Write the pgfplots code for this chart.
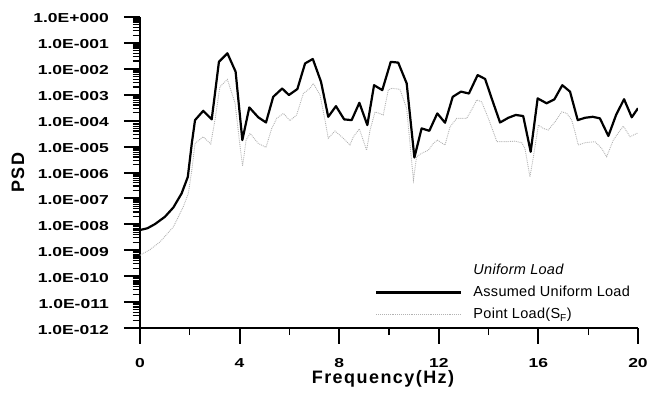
\documentclass[border=0pt]{standalone}
\usepackage{fontspec}
\setmainfont{Liberation Sans}
\newfontfamily\labfont[LetterSpace=8]{Liberation Sans}
\newfontfamily\legfont[LetterSpace=2]{Liberation Sans}
\usepackage{graphicx}
\usepackage{pgfplots}
\pgfplotsset{compat=1.18}
\newcommand\TK[1]{\scalebox{1.75}[1.3]{\normalsize\bfseries #1}}
\begin{document}
\begin{tikzpicture}
\path[use as bounding box] (-140pt,-66pt) rectangle (522pt,328pt);
\begin{axis}[
  at={(0,0)}, anchor=south west,
  width=498pt, height=311pt, scale only axis,
  xmin=0, xmax=20, ymin=1e-12, ymax=1,
  ymode=log,
  clip mode=individual,
  axis lines*=left,
  axis line style={line width=2.5pt},
  xtick={0,4,8,12,16,20},
  xticklabels={},
  minor xtick={2,6,10,14,18},
  ytick={1e-12,1e-11,1e-10,1e-9,1e-8,1e-7,1e-6,1e-5,1e-4,1e-3,1e-2,1e-1,1},
  yticklabels={},
  extra y ticks={
   2e-12,3e-12,4e-12,5e-12,6e-12,7e-12,8e-12,9e-12,
   2e-11,3e-11,4e-11,5e-11,6e-11,7e-11,8e-11,9e-11,
   2e-10,3e-10,4e-10,5e-10,6e-10,7e-10,8e-10,9e-10,
   2e-9,3e-9,4e-9,5e-9,6e-9,7e-9,8e-9,9e-9,
   2e-8,3e-8,4e-8,5e-8,6e-8,7e-8,8e-8,9e-8,
   2e-7,3e-7,4e-7,5e-7,6e-7,7e-7,8e-7,9e-7,
   2e-6,3e-6,4e-6,5e-6,6e-6,7e-6,8e-6,9e-6,
   2e-5,3e-5,4e-5,5e-5,6e-5,7e-5,8e-5,9e-5,
   2e-4,3e-4,4e-4,5e-4,6e-4,7e-4,8e-4,9e-4,
   2e-3,3e-3,4e-3,5e-3,6e-3,7e-3,8e-3,9e-3,
   2e-2,3e-2,4e-2,5e-2,6e-2,7e-2,8e-2,9e-2,
   2e-1,3e-1,4e-1,5e-1,6e-1,7e-1,8e-1,9e-1},
  extra y tick labels={},
  extra y tick style={major tick length=7pt, major tick style={black, line width=1.2pt}},
  tick align=outside,
  major tick length=16pt, minor tick length=7pt,
  major tick style={black, line width=2pt},
  minor tick style={black, line width=1.2pt},
  xlabel={Frequency(Hz)}, ylabel={PSD},
  label style={font=\labfont\fontsize{18}{20}\selectfont\bfseries},
  xlabel style={at={(axis description cs:0.488,-0.165)}, anchor=center},
  ylabel style={at={(axis description cs:-0.245,0.5)}, anchor=center},
  legend image code/.code={\draw[#1] (0pt,0pt) -- (85pt,0pt); \path (94pt,0pt);},
  legend cell align=left,
  legend style={draw=none, fill=none, at={(0.466,0.218)}, anchor=north west,
    font=\legfont\fontsize{14.5}{16}\selectfont, row sep=6pt},
]
\addlegendimage{draw opacity=0, line width=0pt}
\addplot[black, line width=2.2pt, line join=round] coordinates {
(0,6.03e-9) (0.3,7.08e-9) (0.6,1.02e-8) (1.0,1.95e-8) (1.34,4.47e-8) (1.67,1.55e-7)
(1.92,6.76e-7) (2.08,1.32e-5) (2.21,1.05e-4) (2.54,2.40e-4) (2.88,1.12e-4)
(3.17,1.86e-2) (3.51,3.98e-2) (3.84,7.76e-3) (4.11,1.78e-5) (4.39,3.24e-4)
(4.75,1.35e-4) (5.06,8.51e-5) (5.35,8.32e-4) (5.71,1.74e-3) (5.98,9.77e-4)
(6.32,1.66e-3) (6.63,1.62e-2) (6.94,2.40e-2) (7.27,3.16e-3) (7.56,1.41e-4)
(7.87,3.63e-4) (8.20,1.12e-4) (8.50,1.05e-4) (8.81,4.90e-4) (9.13,6.76e-5)
(9.40,2.34e-3) (9.73,1.51e-3) (10.07,1.86e-2) (10.37,1.74e-2) (10.71,2.75e-3)
(11.02,3.80e-6) (11.31,5.01e-5) (11.62,4.07e-5) (11.94,1.91e-4) (12.25,8.32e-5)
(12.56,8.32e-4) (12.89,1.32e-3) (13.21,1.12e-3) (13.56,5.75e-3) (13.86,4.07e-3)
(14.16,5.75e-4) (14.46,8.51e-5) (14.79,1.29e-4) (15.09,1.66e-4) (15.39,1.51e-4)
(15.69,6.31e-6) (15.97,7.24e-4) (16.33,4.68e-4) (16.64,6.61e-4) (16.96,2.34e-3)
(17.27,1.32e-3) (17.58,1.05e-4) (17.87,1.29e-4) (18.18,1.41e-4) (18.47,1.23e-4)
(18.81,2.57e-5) (19.12,1.66e-4) (19.44,6.76e-4) (19.75,1.35e-4) (20.0,3.02e-4)
};
\addplot[gray!60, line width=0.9pt, densely dotted] coordinates {
(0,6.46e-10) (0.4,1.05e-9) (0.8,2.09e-9) (1.34,7.94e-9) (1.74,4.79e-8) (1.94,1.55e-7)
(2.08,1.23e-6) (2.21,1.32e-5) (2.54,2.40e-5) (2.84,1.26e-5) (3.01,1.05e-4)
(3.21,2.04e-3) (3.51,3.89e-3) (3.82,4.68e-4) (4.02,9.77e-6) (4.12,1.78e-6)
(4.26,1.78e-5) (4.42,3.24e-5) (4.75,1.32e-5) (5.06,9.33e-6) (5.29,5.01e-5)
(5.49,1.23e-4) (5.76,1.91e-4) (6.02,1.00e-4) (6.29,1.66e-4) (6.56,1.12e-3)
(6.83,1.78e-3) (6.96,2.75e-3) (7.23,9.77e-4) (7.43,1.05e-4) (7.56,2.09e-5)
(7.83,3.98e-5) (8.10,2.40e-5) (8.43,1.15e-5) (8.57,2.40e-5) (8.81,4.79e-5)
(9.10,7.24e-6) (9.24,4.37e-5) (9.44,2.19e-4) (9.77,1.66e-4) (9.97,1.51e-3)
(10.11,1.78e-3) (10.44,1.62e-3) (10.71,2.95e-4) (10.98,5.13e-7) (11.11,4.07e-6)
(11.31,5.50e-6) (11.58,7.24e-6) (11.78,1.32e-5) (11.94,1.78e-5) (12.25,1.15e-5)
(12.45,5.75e-5) (12.72,1.23e-4) (13.12,1.23e-4) (13.39,3.47e-4) (13.52,6.31e-4)
(13.72,5.37e-4) (13.99,1.23e-4) (14.19,3.72e-5) (14.33,1.55e-5) (14.73,1.55e-5)
(15.06,1.62e-5) (15.33,1.41e-5) (15.46,8.51e-6) (15.66,6.76e-7) (15.80,4.07e-6)
(16.00,6.76e-5) (16.20,5.01e-5) (16.40,4.37e-5) (16.67,9.12e-5) (16.94,2.19e-4)
(17.14,1.91e-4) (17.34,1.05e-4) (17.47,3.72e-5) (17.60,1.15e-5) (17.87,1.41e-5)
(18.27,1.55e-5) (18.54,8.51e-6) (18.74,4.07e-6) (19.01,1.78e-5) (19.24,3.72e-5)
(19.41,6.17e-5) (19.68,2.40e-5) (20.0,3.39e-5)
};
\legend{\textit{Uniform Load},Assumed Uniform Load,Point Load(S\textsubscript{F})}
\coordinate (y12) at (axis cs:0,1e-12);
\coordinate (y11) at (axis cs:0,1e-11);
\coordinate (y10) at (axis cs:0,1e-10);
\coordinate (y9) at (axis cs:0,1e-9);
\coordinate (y8) at (axis cs:0,1e-8);
\coordinate (y7) at (axis cs:0,1e-7);
\coordinate (y6) at (axis cs:0,1e-6);
\coordinate (y5) at (axis cs:0,1e-5);
\coordinate (y4) at (axis cs:0,1e-4);
\coordinate (y3) at (axis cs:0,1e-3);
\coordinate (y2) at (axis cs:0,1e-2);
\coordinate (y1) at (axis cs:0,1e-1);
\coordinate (y0) at (axis cs:0,1);
\coordinate (x0) at (axis cs:0,1e-12);
\coordinate (x4) at (axis cs:4,1e-12);
\coordinate (x8) at (axis cs:8,1e-12);
\coordinate (x12) at (axis cs:12,1e-12);
\coordinate (x16) at (axis cs:16,1e-12);
\coordinate (x20) at (axis cs:20,1e-12);
\end{axis}
\begin{scope}[yl/.style={anchor=base east, inner sep=0pt, xshift=-31pt, yshift=-6pt},
              xl/.style={anchor=base, inner sep=0pt, yshift=-39pt}]
\node[yl] at (y12) {\TK{1.0E-012}};
\node[yl] at (y11) {\TK{1.0E-011}};
\node[yl] at (y10) {\TK{1.0E-010}};
\node[yl] at (y9) {\TK{1.0E-009}};
\node[yl] at (y8) {\TK{1.0E-008}};
\node[yl] at (y7) {\TK{1.0E-007}};
\node[yl] at (y6) {\TK{1.0E-006}};
\node[yl] at (y5) {\TK{1.0E-005}};
\node[yl] at (y4) {\TK{1.0E-004}};
\node[yl] at (y3) {\TK{1.0E-003}};
\node[yl] at (y2) {\TK{1.0E-002}};
\node[yl] at (y1) {\TK{1.0E-001}};
\node[yl] at (y0) {\TK{1.0E+000}};
\node[xl] at (x0) {\TK{0}};
\node[xl] at (x4) {\TK{4}};
\node[xl] at (x8) {\TK{8}};
\node[xl] at (x12) {\TK{12}};
\node[xl] at (x16) {\TK{16}};
\node[xl] at (x20) {\TK{20}};
\end{scope}
\end{tikzpicture}
\end{document}
